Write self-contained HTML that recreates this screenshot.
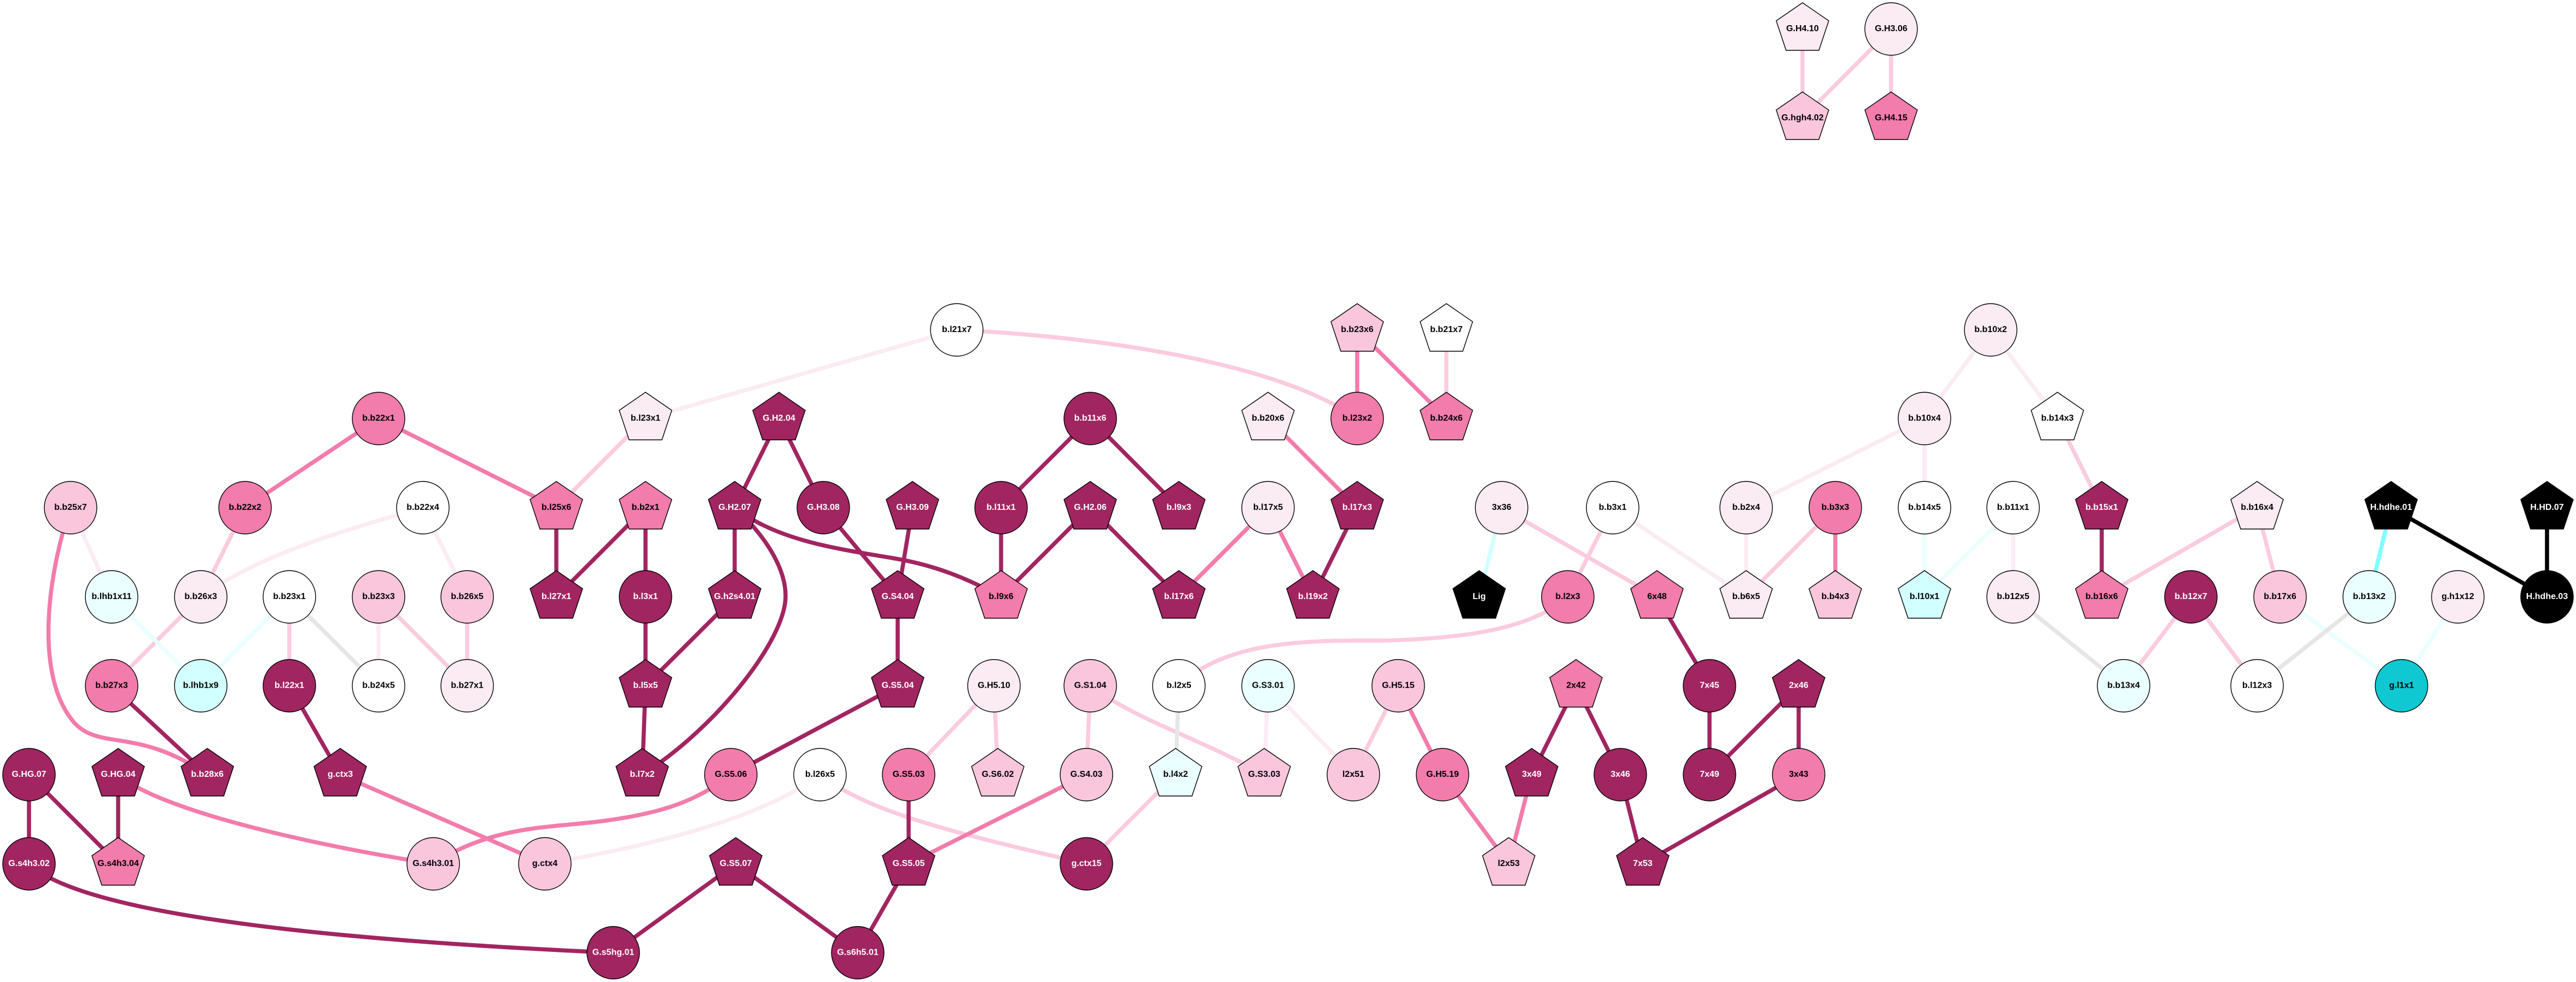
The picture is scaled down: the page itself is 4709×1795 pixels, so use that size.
<!DOCTYPE html>
<html><head><meta charset="utf-8"><title>Interaction network</title>
<style>
html,body{margin:0;padding:0;background:#fff}
svg{display:block}
text{font-family:"Liberation Sans",Arial,sans-serif;font-weight:bold;font-size:16px;text-anchor:middle;fill:#000}
.e{fill:none;stroke-width:7.5}
.e line,.e path{fill:none}
.ed{stroke:#A12560}.em{stroke:#F27CAB}.el{stroke:#FBCBDF}.ev{stroke:#FBEBF3}.ec{stroke:#EAFFFF}.eg{stroke:#E6E6E6}.ek{stroke:#000}.ea{stroke:#D2FFFF}.eb{stroke:#80FFFF}
.n circle,.n polygon{stroke:#000;stroke-width:1.4}
.d circle,.d polygon{fill:#A12560}.d text,.k text{fill:#fff}
.m circle,.m polygon{fill:#F27CAB}
.l circle,.l polygon{fill:#F9C6DC}
.v circle,.v polygon{fill:#FBEBF3}
.w circle,.w polygon{fill:#fff}
.c circle,.c polygon{fill:#EAFFFF}
.a circle,.a polygon{fill:#D2FFFF}
.k circle,.k polygon{fill:#000}
.t circle{fill:#10C8D2}
</style></head><body>
<svg xmlns="http://www.w3.org/2000/svg" width="4709" height="1795" viewBox="0 0 4709 1795">
<rect width="4709" height="1795" fill="#fff"/>
<g class="e">
<g class="el">
<line x1="3295" y1="53" x2="3295" y2="216"/><line x1="3457" y1="53" x2="3295" y2="216"/><line x1="3457" y1="53" x2="3457" y2="216"/>
<line x1="1180" y1="765" x2="1017" y2="928"/><line x1="448" y1="928" x2="367" y2="1091"/><line x1="367" y1="1091" x2="204" y2="1253.5"/>
<line x1="529" y1="1091" x2="529" y2="1253.5"/><line x1="692" y1="1091" x2="854" y2="1253.5"/><line x1="854" y1="1091" x2="854" y2="1253.5"/>
<line x1="1817" y1="1253.5" x2="1661" y2="1416"/><line x1="1817" y1="1253.5" x2="1824" y2="1416"/><line x1="1993" y1="1253.5" x2="1986" y2="1416"/>
<line x1="2149" y1="1416" x2="1986" y2="1579"/><line x1="2644" y1="603" x2="2644" y2="765"/>
<line x1="2745" y1="928" x2="3029" y2="1091"/><line x1="2948" y1="928" x2="2866" y2="1091"/><line x1="3355" y1="928" x2="3192" y2="1091"/>
<line x1="2556" y1="1253.5" x2="2474" y2="1416"/><line x1="3761" y1="765" x2="3842" y2="928"/><line x1="4126" y1="928" x2="3842" y2="1091"/>
<line x1="4126" y1="928" x2="4168" y2="1091"/><line x1="4005" y1="1091" x2="3882" y2="1253.5"/><line x1="4005" y1="1091" x2="4126" y2="1253.5"/>
<path d="M1749,603 C2000,615 2330,660 2481,765"/>
<path d="M2866,1091 C2800,1149 2680,1168 2520,1171 C2380,1170 2240,1173 2155,1253.5"/>
<path d="M1993,1253.5 C2080,1318 2190,1348 2311,1416"/>
<path d="M1499,1416 C1590,1488 1770,1528 1986,1579"/>
</g>
<g class="ev">
<line x1="129" y1="928" x2="204" y2="1091"/><line x1="773" y1="928" x2="854" y2="1091"/><line x1="692" y1="1091" x2="692" y2="1253.5"/>
<line x1="1749" y1="603" x2="1180" y2="765"/><line x1="2318" y1="1253.5" x2="2311" y2="1416"/><line x1="2318" y1="1253.5" x2="2474" y2="1416"/>
<line x1="2948" y1="928" x2="3192" y2="1091"/><line x1="3192" y1="928" x2="3192" y2="1091"/><line x1="3192" y1="928" x2="3518" y2="765"/>
<line x1="3639" y1="603" x2="3518" y2="765"/><line x1="3639" y1="603" x2="3761" y2="765"/><line x1="3518" y1="765" x2="3518" y2="928"/>
<line x1="3680" y1="928" x2="3680" y2="1091"/>
<path d="M773,928 C650,964 480,1009 367,1091"/>
<path d="M996,1579 C1180,1548 1390,1498 1499,1416"/>
</g>
<g class="ec">
<line x1="204" y1="1091" x2="367" y2="1253.5"/><line x1="529" y1="1091" x2="367" y2="1253.5"/><line x1="3518" y1="928" x2="3518" y2="1091"/>
<line x1="3680" y1="928" x2="3518" y2="1091"/><line x1="4168" y1="1091" x2="4390" y2="1253.5"/><line x1="4493" y1="1091" x2="4390" y2="1253.5"/>
</g>
<g class="eg">
<line x1="529" y1="1091" x2="692" y2="1253.5"/><line x1="2155" y1="1253.5" x2="2149" y2="1416"/><line x1="3680" y1="1091" x2="3882" y2="1253.5"/>
<line x1="4331" y1="1091" x2="4126" y2="1253.5"/>
</g>
<line class="ea" x1="2745" y1="928" x2="2704" y2="1091"/>
<line class="eb" x1="4371" y1="928" x2="4331" y2="1091"/>
<g class="em">
<line x1="692" y1="765" x2="448" y2="928"/><line x1="692" y1="765" x2="1017" y2="928"/><line x1="996" y1="1579" x2="622" y2="1416"/>
<line x1="2318" y1="928" x2="2155" y2="1091"/><line x1="2318" y1="928" x2="2400" y2="1091"/><line x1="2318" y1="765" x2="2481" y2="928"/>
<line x1="1986" y1="1416" x2="1661" y2="1579"/><line x1="2481" y1="603" x2="2481" y2="765"/><line x1="2481" y1="603" x2="2644" y2="765"/>
<line x1="3355" y1="928" x2="3355" y2="1091"/><line x1="2556" y1="1253.5" x2="2637" y2="1416"/><line x1="2637" y1="1416" x2="2758" y2="1579"/>
<line x1="2800" y1="1416" x2="2758" y2="1579"/>
<path d="M129,928 C90,1040 60,1230 134,1319 C180,1373 250,1328 379,1416"/>
<path d="M216,1416 C290,1480 560,1543 792,1579"/>
<path d="M792,1579 C900,1508 1010,1513 1100,1501 C1200,1488 1270,1468 1336,1416"/>
</g>
<g class="ed">
<line x1="1017" y1="928" x2="1017" y2="1091"/><line x1="1180" y1="928" x2="1017" y2="1091"/><line x1="1180" y1="928" x2="1180" y2="1091"/>
<line x1="1180" y1="1091" x2="1180" y2="1253.5"/><line x1="204" y1="1253.5" x2="379" y2="1416"/><line x1="529" y1="1253.5" x2="622" y2="1416"/>
<line x1="1180" y1="1253.5" x2="1174" y2="1416"/><line x1="53" y1="1416" x2="53" y2="1579"/><line x1="53" y1="1416" x2="216" y2="1579"/>
<line x1="216" y1="1416" x2="216" y2="1579"/><line x1="1121" y1="1741.5" x2="1345" y2="1579"/>
<line x1="1424" y1="765" x2="1343" y2="928"/><line x1="1424" y1="765" x2="1505" y2="928"/><line x1="1343" y1="928" x2="1343" y2="1091"/>
<line x1="1505" y1="928" x2="1641" y2="1091"/><line x1="1668" y1="928" x2="1641" y2="1091"/><line x1="1993" y1="765" x2="1830" y2="928"/>
<line x1="1993" y1="765" x2="2155" y2="928"/><line x1="1830" y1="928" x2="1830" y2="1091"/><line x1="1993" y1="928" x2="1830" y2="1091"/>
<line x1="1993" y1="928" x2="2155" y2="1091"/><line x1="1343" y1="1091" x2="1180" y2="1253.5"/><line x1="1641" y1="1091" x2="1641" y2="1253.5"/>
<line x1="1641" y1="1253.5" x2="1336" y2="1416"/><line x1="1661" y1="1416" x2="1661" y2="1579"/><line x1="1345" y1="1579" x2="1568" y2="1741.5"/>
<line x1="1661" y1="1579" x2="1568" y2="1741.5"/><line x1="2481" y1="928" x2="2400" y2="1091"/><line x1="3029" y1="1091" x2="3125" y2="1253.5"/>
<line x1="2881" y1="1253.5" x2="2800" y2="1416"/><line x1="2881" y1="1253.5" x2="2962" y2="1416"/><line x1="2962" y1="1416" x2="3003" y2="1579"/>
<line x1="3125" y1="1253.5" x2="3125" y2="1416"/><line x1="3288" y1="1253.5" x2="3125" y2="1416"/><line x1="3288" y1="1253.5" x2="3288" y2="1416"/>
<line x1="3288" y1="1416" x2="3003" y2="1579"/><line x1="3842" y1="928" x2="3842" y2="1091"/>
<path d="M53,1579 C160,1680 680,1722 1121,1741.5"/>
<path d="M1343,928 C1400,980 1437,1040 1436,1091 C1435,1170 1310,1330 1174,1416"/>
<path d="M1343,928 C1420,988 1530,1003 1631,1020 C1710,1033 1770,1058 1830,1091"/>
</g>
<g class="ek">
<line x1="4371" y1="928" x2="4656" y2="1091"/><line x1="4656" y1="928" x2="4656" y2="1091"/>
</g>
</g>

<g class="n v" transform="translate(3295,53)"><polygon points="0,-48 48,-15 30,39 -30,39 -48,-15"/><text y="4">G.H4.10</text></g>
<g class="n v" transform="translate(3457,53)"><circle r="48"/><text y="4">G.H3.06</text></g>
<g class="n l" transform="translate(3295,216)"><polygon points="0,-48 48,-15 30,39 -30,39 -48,-15"/><text y="4">G.hgh4.02</text></g>
<g class="n m" transform="translate(3457,216)"><polygon points="0,-48 48,-15 30,39 -30,39 -48,-15"/><text y="4">G.H4.15</text></g>

<g class="n w" transform="translate(1749,603)"><circle r="48"/><text y="4">b.l21x7</text></g>
<g class="n l" transform="translate(2481,603)"><polygon points="0,-48 48,-15 30,39 -30,39 -48,-15"/><text y="4">b.b23x6</text></g>
<g class="n w" transform="translate(2644,603)"><polygon points="0,-48 48,-15 30,39 -30,39 -48,-15"/><text y="4">b.b21x7</text></g>
<g class="n v" transform="translate(3639,603)"><circle r="48"/><text y="4">b.b10x2</text></g>

<g class="n m" transform="translate(692,765)"><circle r="48"/><text y="4">b.b22x1</text></g>
<g class="n v" transform="translate(1180,765)"><polygon points="0,-48 48,-15 30,39 -30,39 -48,-15"/><text y="4">b.l23x1</text></g>
<g class="n d" transform="translate(1424,765)"><polygon points="0,-48 48,-15 30,39 -30,39 -48,-15"/><text y="4">G.H2.04</text></g>
<g class="n d" transform="translate(1993,765)"><circle r="48"/><text y="4">b.b11x6</text></g>
<g class="n v" transform="translate(2318,765)"><polygon points="0,-48 48,-15 30,39 -30,39 -48,-15"/><text y="4">b.b20x6</text></g>
<g class="n m" transform="translate(2481,765)"><circle r="48"/><text y="4">b.l23x2</text></g>
<g class="n m" transform="translate(2644,765)"><polygon points="0,-48 48,-15 30,39 -30,39 -48,-15"/><text y="4">b.b24x6</text></g>
<g class="n v" transform="translate(3518,765)"><circle r="48"/><text y="4">b.b10x4</text></g>
<g class="n w" transform="translate(3761,765)"><polygon points="0,-48 48,-15 30,39 -30,39 -48,-15"/><text y="4">b.b14x3</text></g>

<g class="n l" transform="translate(129,928)"><circle r="48"/><text y="4">b.b25x7</text></g>
<g class="n m" transform="translate(448,928)"><circle r="48"/><text y="4">b.b22x2</text></g>
<g class="n w" transform="translate(773,928)"><circle r="48"/><text y="4">b.b22x4</text></g>
<g class="n m" transform="translate(1017,928)"><polygon points="0,-48 48,-15 30,39 -30,39 -48,-15"/><text y="4">b.l25x6</text></g>
<g class="n m" transform="translate(1180,928)"><polygon points="0,-48 48,-15 30,39 -30,39 -48,-15"/><text y="4">b.b2x1</text></g>
<g class="n d" transform="translate(1343,928)"><polygon points="0,-48 48,-15 30,39 -30,39 -48,-15"/><text y="4">G.H2.07</text></g>
<g class="n d" transform="translate(1505,928)"><circle r="48"/><text y="4">G.H3.08</text></g>
<g class="n d" transform="translate(1668,928)"><polygon points="0,-48 48,-15 30,39 -30,39 -48,-15"/><text y="4">G.H3.09</text></g>
<g class="n d" transform="translate(1830,928)"><circle r="48"/><text y="4">b.l11x1</text></g>
<g class="n d" transform="translate(1993,928)"><polygon points="0,-48 48,-15 30,39 -30,39 -48,-15"/><text y="4">G.H2.06</text></g>
<g class="n d" transform="translate(2155,928)"><polygon points="0,-48 48,-15 30,39 -30,39 -48,-15"/><text y="4">b.l9x3</text></g>
<g class="n v" transform="translate(2318,928)"><circle r="48"/><text y="4">b.l17x5</text></g>
<g class="n d" transform="translate(2481,928)"><polygon points="0,-48 48,-15 30,39 -30,39 -48,-15"/><text y="4">b.l17x3</text></g>
<g class="n v" transform="translate(2745,928)"><circle r="48"/><text y="4">3x36</text></g>
<g class="n w" transform="translate(2948,928)"><circle r="48"/><text y="4">b.b3x1</text></g>
<g class="n v" transform="translate(3192,928)"><circle r="48"/><text y="4">b.b2x4</text></g>
<g class="n m" transform="translate(3355,928)"><circle r="48"/><text y="4">b.b3x3</text></g>
<g class="n w" transform="translate(3518,928)"><circle r="48"/><text y="4">b.b14x5</text></g>
<g class="n w" transform="translate(3680,928)"><circle r="48"/><text y="4">b.b11x1</text></g>
<g class="n d" transform="translate(3842,928)"><polygon points="0,-48 48,-15 30,39 -30,39 -48,-15"/><text y="4">b.b15x1</text></g>
<g class="n v" transform="translate(4126,928)"><polygon points="0,-48 48,-15 30,39 -30,39 -48,-15"/><text y="4">b.b16x4</text></g>
<g class="n k" transform="translate(4371,928)"><polygon points="0,-48 48,-15 30,39 -30,39 -48,-15"/><text y="4">H.hdhe.01</text></g>
<g class="n k" transform="translate(4656,928)"><polygon points="0,-48 48,-15 30,39 -30,39 -48,-15"/><text y="4">H.HD.07</text></g>

<g class="n c" transform="translate(204,1091)"><circle r="48"/><text y="4">b.lhb1x11</text></g>
<g class="n v" transform="translate(367,1091)"><circle r="48"/><text y="4">b.b26x3</text></g>
<g class="n w" transform="translate(529,1091)"><circle r="48"/><text y="4">b.b23x1</text></g>
<g class="n l" transform="translate(692,1091)"><circle r="48"/><text y="4">b.b23x3</text></g>
<g class="n l" transform="translate(854,1091)"><circle r="48"/><text y="4">b.b26x5</text></g>
<g class="n d" transform="translate(1017,1091)"><polygon points="0,-48 48,-15 30,39 -30,39 -48,-15"/><text y="4">b.l27x1</text></g>
<g class="n d" transform="translate(1180,1091)"><circle r="48"/><text y="4">b.l3x1</text></g>
<g class="n d" transform="translate(1343,1091)"><polygon points="0,-48 48,-15 30,39 -30,39 -48,-15"/><text y="4">G.h2s4.01</text></g>
<g class="n d" transform="translate(1641,1091)"><polygon points="0,-48 48,-15 30,39 -30,39 -48,-15"/><text y="4">G.S4.04</text></g>
<g class="n m" transform="translate(1830,1091)"><polygon points="0,-48 48,-15 30,39 -30,39 -48,-15"/><text y="4">b.l9x6</text></g>
<g class="n d" transform="translate(2155,1091)"><polygon points="0,-48 48,-15 30,39 -30,39 -48,-15"/><text y="4">b.l17x6</text></g>
<g class="n d" transform="translate(2400,1091)"><polygon points="0,-48 48,-15 30,39 -30,39 -48,-15"/><text y="4">b.l19x2</text></g>
<g class="n k" transform="translate(2704,1091)"><polygon points="0,-48 48,-15 30,39 -30,39 -48,-15"/><text y="4">Lig</text></g>
<g class="n m" transform="translate(2866,1091)"><circle r="48"/><text y="4">b.l2x3</text></g>
<g class="n m" transform="translate(3029,1091)"><polygon points="0,-48 48,-15 30,39 -30,39 -48,-15"/><text y="4">6x48</text></g>
<g class="n v" transform="translate(3192,1091)"><polygon points="0,-48 48,-15 30,39 -30,39 -48,-15"/><text y="4">b.b6x5</text></g>
<g class="n l" transform="translate(3355,1091)"><polygon points="0,-48 48,-15 30,39 -30,39 -48,-15"/><text y="4">b.b4x3</text></g>
<g class="n a" transform="translate(3518,1091)"><polygon points="0,-48 48,-15 30,39 -30,39 -48,-15"/><text y="4">b.l10x1</text></g>
<g class="n v" transform="translate(3680,1091)"><circle r="48"/><text y="4">b.b12x5</text></g>
<g class="n m" transform="translate(3842,1091)"><polygon points="0,-48 48,-15 30,39 -30,39 -48,-15"/><text y="4">b.b16x6</text></g>
<g class="n d" transform="translate(4005,1091)"><circle r="48"/><text y="4">b.b12x7</text></g>
<g class="n l" transform="translate(4168,1091)"><circle r="48"/><text y="4">b.b17x6</text></g>
<g class="n c" transform="translate(4331,1091)"><circle r="48"/><text y="4">b.b13x2</text></g>
<g class="n v" transform="translate(4493,1091)"><circle r="48"/><text y="4">g.h1x12</text></g>
<g class="n k" transform="translate(4656,1091)"><circle r="48"/><text y="4">H.hdhe.03</text></g>

<g class="n m" transform="translate(204,1253.5)"><circle r="48"/><text y="4">b.b27x3</text></g>
<g class="n a" transform="translate(367,1253.5)"><circle r="48"/><text y="4">b.lhb1x9</text></g>
<g class="n d" transform="translate(529,1253.5)"><circle r="48"/><text y="4">b.l22x1</text></g>
<g class="n w" transform="translate(692,1253.5)"><circle r="48"/><text y="4">b.b24x5</text></g>
<g class="n v" transform="translate(854,1253.5)"><circle r="48"/><text y="4">b.b27x1</text></g>
<g class="n d" transform="translate(1180,1253.5)"><polygon points="0,-48 48,-15 30,39 -30,39 -48,-15"/><text y="4">b.l5x5</text></g>
<g class="n d" transform="translate(1641,1253.5)"><polygon points="0,-48 48,-15 30,39 -30,39 -48,-15"/><text y="4">G.S5.04</text></g>
<g class="n v" transform="translate(1817,1253.5)"><circle r="48"/><text y="4">G.H5.10</text></g>
<g class="n l" transform="translate(1993,1253.5)"><circle r="48"/><text y="4">G.S1.04</text></g>
<g class="n w" transform="translate(2155,1253.5)"><circle r="48"/><text y="4">b.l2x5</text></g>
<g class="n c" transform="translate(2318,1253.5)"><circle r="48"/><text y="4">G.S3.01</text></g>
<g class="n l" transform="translate(2556,1253.5)"><circle r="48"/><text y="4">G.H5.15</text></g>
<g class="n m" transform="translate(2881,1253.5)"><polygon points="0,-48 48,-15 30,39 -30,39 -48,-15"/><text y="4">2x42</text></g>
<g class="n d" transform="translate(3125,1253.5)"><circle r="48"/><text y="4">7x45</text></g>
<g class="n d" transform="translate(3288,1253.5)"><polygon points="0,-48 48,-15 30,39 -30,39 -48,-15"/><text y="4">2x46</text></g>
<g class="n c" transform="translate(3882,1253.5)"><circle r="48"/><text y="4">b.b13x4</text></g>
<g class="n w" transform="translate(4126,1253.5)"><circle r="48"/><text y="4">b.l12x3</text></g>
<g class="n t" transform="translate(4390,1253.5)"><circle r="48"/><text y="4">g.l1x1</text></g>

<g class="n d" transform="translate(53,1416)"><circle r="48"/><text y="4">G.HG.07</text></g>
<g class="n d" transform="translate(216,1416)"><polygon points="0,-48 48,-15 30,39 -30,39 -48,-15"/><text y="4">G.HG.04</text></g>
<g class="n d" transform="translate(379,1416)"><polygon points="0,-48 48,-15 30,39 -30,39 -48,-15"/><text y="4">b.b28x6</text></g>
<g class="n d" transform="translate(622,1416)"><polygon points="0,-48 48,-15 30,39 -30,39 -48,-15"/><text y="4">g.ctx3</text></g>
<g class="n d" transform="translate(1174,1416)"><polygon points="0,-48 48,-15 30,39 -30,39 -48,-15"/><text y="4">b.l7x2</text></g>
<g class="n m" transform="translate(1336,1416)"><circle r="48"/><text y="4">G.S5.06</text></g>
<g class="n w" transform="translate(1499,1416)"><circle r="48"/><text y="4">b.l26x5</text></g>
<g class="n m" transform="translate(1661,1416)"><circle r="48"/><text y="4">G.S5.03</text></g>
<g class="n l" transform="translate(1824,1416)"><polygon points="0,-48 48,-15 30,39 -30,39 -48,-15"/><text y="4">G.S6.02</text></g>
<g class="n l" transform="translate(1986,1416)"><circle r="48"/><text y="4">G.S4.03</text></g>
<g class="n c" transform="translate(2149,1416)"><polygon points="0,-48 48,-15 30,39 -30,39 -48,-15"/><text y="4">b.l4x2</text></g>
<g class="n l" transform="translate(2311,1416)"><polygon points="0,-48 48,-15 30,39 -30,39 -48,-15"/><text y="4">G.S3.03</text></g>
<g class="n l" transform="translate(2474,1416)"><circle r="48"/><text y="4">l2x51</text></g>
<g class="n m" transform="translate(2637,1416)"><circle r="48"/><text y="4">G.H5.19</text></g>
<g class="n d" transform="translate(2800,1416)"><polygon points="0,-48 48,-15 30,39 -30,39 -48,-15"/><text y="4">3x49</text></g>
<g class="n d" transform="translate(2962,1416)"><circle r="48"/><text y="4">3x46</text></g>
<g class="n d" transform="translate(3125,1416)"><circle r="48"/><text y="4">7x49</text></g>
<g class="n m" transform="translate(3288,1416)"><circle r="48"/><text y="4">3x43</text></g>

<g class="n d" transform="translate(53,1579)"><circle r="48"/><text y="4">G.s4h3.02</text></g>
<g class="n m" transform="translate(216,1579)"><polygon points="0,-48 48,-15 30,39 -30,39 -48,-15"/><text y="4">G.s4h3.04</text></g>
<g class="n l" transform="translate(792,1579)"><circle r="48"/><text y="4">G.s4h3.01</text></g>
<g class="n l" transform="translate(996,1579)"><circle r="48"/><text y="4">g.ctx4</text></g>
<g class="n d" transform="translate(1345,1579)"><polygon points="0,-48 48,-15 30,39 -30,39 -48,-15"/><text y="4">G.S5.07</text></g>
<g class="n d" transform="translate(1661,1579)"><polygon points="0,-48 48,-15 30,39 -30,39 -48,-15"/><text y="4">G.S5.05</text></g>
<g class="n d" transform="translate(1986,1579)"><circle r="48"/><text y="4">g.ctx15</text></g>
<g class="n l" transform="translate(2758,1579)"><polygon points="0,-48 48,-15 30,39 -30,39 -48,-15"/><text y="4">l2x53</text></g>
<g class="n d" transform="translate(3003,1579)"><polygon points="0,-48 48,-15 30,39 -30,39 -48,-15"/><text y="4">7x53</text></g>

<g class="n d" transform="translate(1121,1741.5)"><circle r="48"/><text y="4">G.s5hg.01</text></g>
<g class="n d" transform="translate(1568,1741.5)"><circle r="48"/><text y="4">G.s6h5.01</text></g>
</svg>
</body></html>
